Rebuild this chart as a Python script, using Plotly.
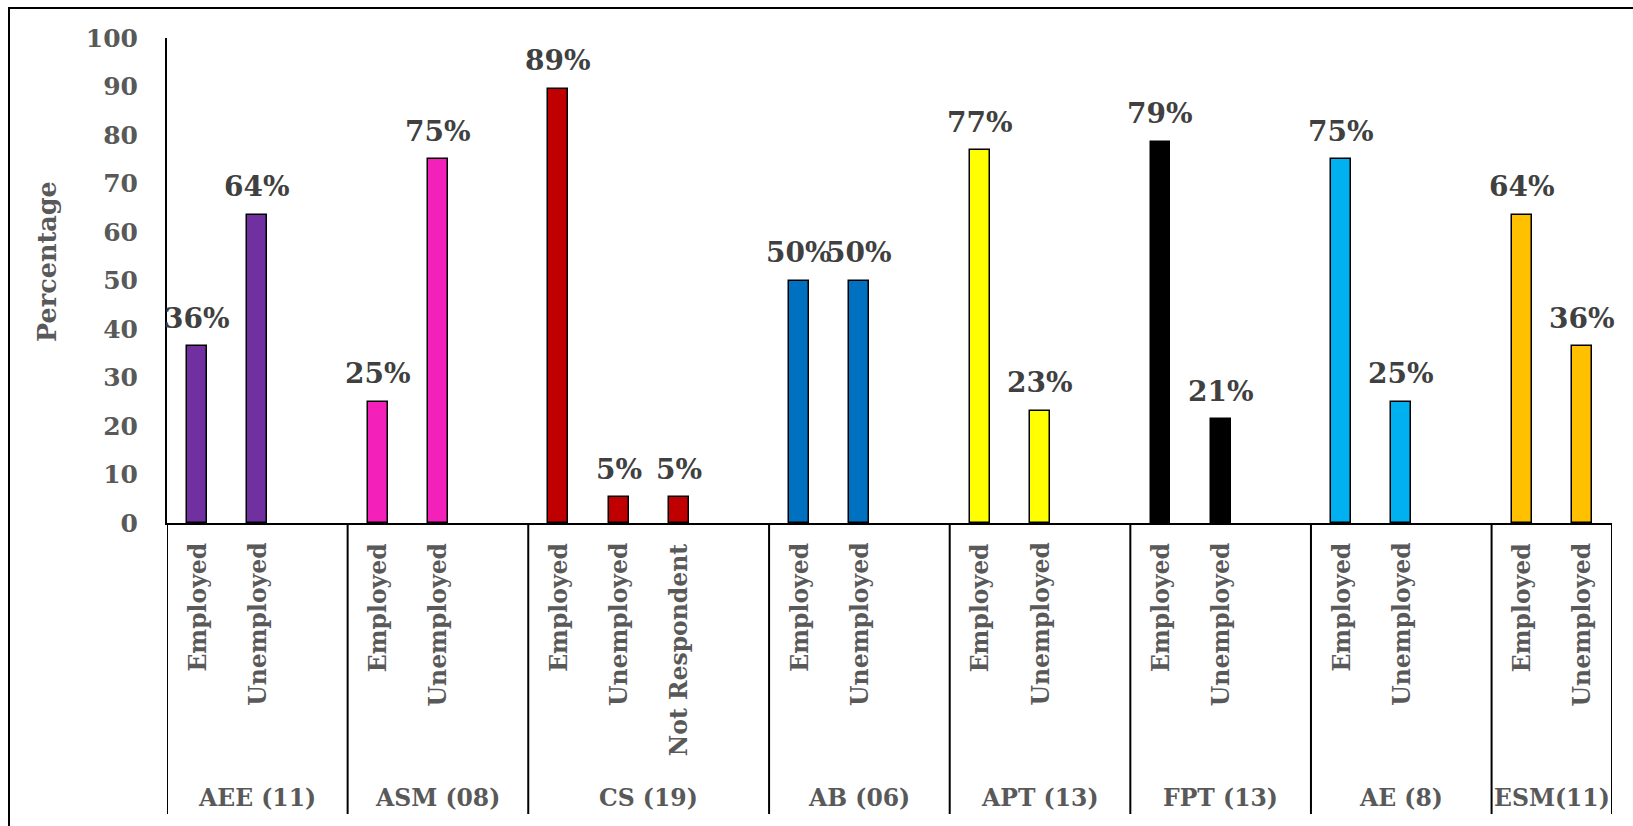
import plotly.graph_objects as go

# ---- data ----
groups = ["AEE (11)", "ASM (08)", "CS (19)", "AB (06)", "APT (13)", "FPT (13)", "AE (8)", "ESM(11)"]
sub_labels = [
    ["Employed", "Unemployed"],
    ["Employed", "Unemployed"],
    ["Employed", "Unemployed", "Not Respondent"],
    ["Employed", "Unemployed"],
    ["Employed", "Unemployed"],
    ["Employed", "Unemployed"],
    ["Employed", "Unemployed"],
    ["Employed", "Unemployed"],
]
values = [
    [36.4, 63.6],
    [25.0, 75.0],
    [89.5, 5.3, 5.3],
    [50.0, 50.0],
    [76.9, 23.1],
    [78.6, 21.4],
    [75.0, 25.0],
    [63.6, 36.4],
]
value_labels = [
    ["36%", "64%"],
    ["25%", "75%"],
    ["89%", "5%", "5%"],
    ["50%", "50%"],
    ["77%", "23%"],
    ["79%", "21%"],
    ["75%", "25%"],
    ["64%", "36%"],
]
# an empty spacer slot follows every group except the last
has_gap = [True, True, True, True, True, True, True, False]
colors = ["#7030A0", "#F321B9", "#C00000", "#0070C0", "#FFFF00", "#000000", "#00B0F0", "#FFC000"]
y_ticks = list(range(0, 101, 10))

# ---- style ----
FONT = "DejaVu Serif"
GRAY = "#595959"
DARK = "#404040"
W, H = 1633, 826
ML, MR, MT, MB = 167, 21, 38, 303
PW, PH = W - ML - MR, H - MT - MB

cat_order = []
group_spans = []
for g, subs, gap in zip(groups, sub_labels, has_gap):
    start = len(cat_order)
    for s in subs:
        cat_order.append(f"{g}|{s}")
    if gap:
        cat_order.append(f"{g}|gap")
    group_spans.append((start - 0.5, len(cat_order) - 0.5))

fig = go.Figure()
annotations = []
for g, subs, vals, labs, col in zip(groups, sub_labels, values, value_labels, colors):
    xs = [f"{g}|{s}" for s in subs]
    fig.add_trace(go.Bar(
        x=xs, y=vals, marker=dict(color=col, line=dict(color="#000000", width=1.5)),
        width=0.33, showlegend=False, hoverinfo="skip",
    ))
    for x, v, lab, s in zip(xs, vals, labs, subs):
        annotations.append(dict(
            x=x, y=v, xref="x", yref="y", text=lab, showarrow=False,
            yanchor="middle", yshift=28,
            font=dict(family=FONT, size=28, color=DARK, weight="bold"),
        ))
        annotations.append(dict(
            x=x, y=0, xref="x", yref="paper", text=s, showarrow=False,
            textangle=-90, yanchor="top", xanchor="center", yshift=-18,
            font=dict(family=FONT, size=23.5, color=GRAY, weight="bold"),
        ))

shapes = []
for (g0, g1), g in zip(group_spans, groups):
    annotations.append(dict(
        x=(g0 + g1) / 2, y=0, xref="x", yref="paper", text=g, showarrow=False,
        yanchor="middle", yshift=-(798 - 523),
        font=dict(family=FONT, size=23.5, color=GRAY, weight="bold"),
    ))
bounds = sorted(set([b for span in group_spans for b in span]))
for b in bounds:
    shapes.append(dict(type="line", xref="x", yref="paper", x0=b, x1=b,
                       y0=0, y1=-(814 - 523) / PH, line=dict(color="#000000", width=2)))

# outer chart frame (cropped on right/bottom)
shapes.append(dict(type="rect", xref="paper", yref="paper",
                   x0=(9 - ML) / PW, x1=(W + 20 - ML) / PW,
                   y0=-(H + 20 - MT - PH) / PH, y1=1 + (MT - 8) / PH,
                   line=dict(color="#000000", width=2), fillcolor="rgba(0,0,0,0)", layer="below"))

annotations.append(dict(
    x=0, y=(523 - 262) / PH, xref="paper", yref="paper", text="Percentage",
    showarrow=False, textangle=-90, xshift=-(ML - 47), xanchor="center", yanchor="middle",
    font=dict(family=FONT, size=25.5, color=GRAY, weight="bold"),
))

fig.update_layout(
    width=W, height=H, margin=dict(l=ML, r=MR, t=MT, b=MB, pad=0),
    paper_bgcolor="white", plot_bgcolor="white",
    bargap=0.0, annotations=annotations, shapes=shapes,
    xaxis=dict(type="category", categoryorder="array", categoryarray=cat_order,
               range=[-0.5, len(cat_order) - 0.5], showticklabels=False, ticks="",
               showgrid=False, zeroline=False, showline=True, linecolor="#000000", linewidth=2),
    yaxis=dict(range=[0, 100], tickvals=y_ticks, showgrid=False, zeroline=False,
               showline=True, linecolor="#000000", linewidth=2, ticks="",
               ticklabelstandoff=22,
               tickfont=dict(family=FONT, size=25, color=GRAY, weight="bold")),
)

fig.write_html("out.html", config={"displayModeBar": False},
               post_script="document.body.style.margin='0';document.body.style.overflow='hidden';")
